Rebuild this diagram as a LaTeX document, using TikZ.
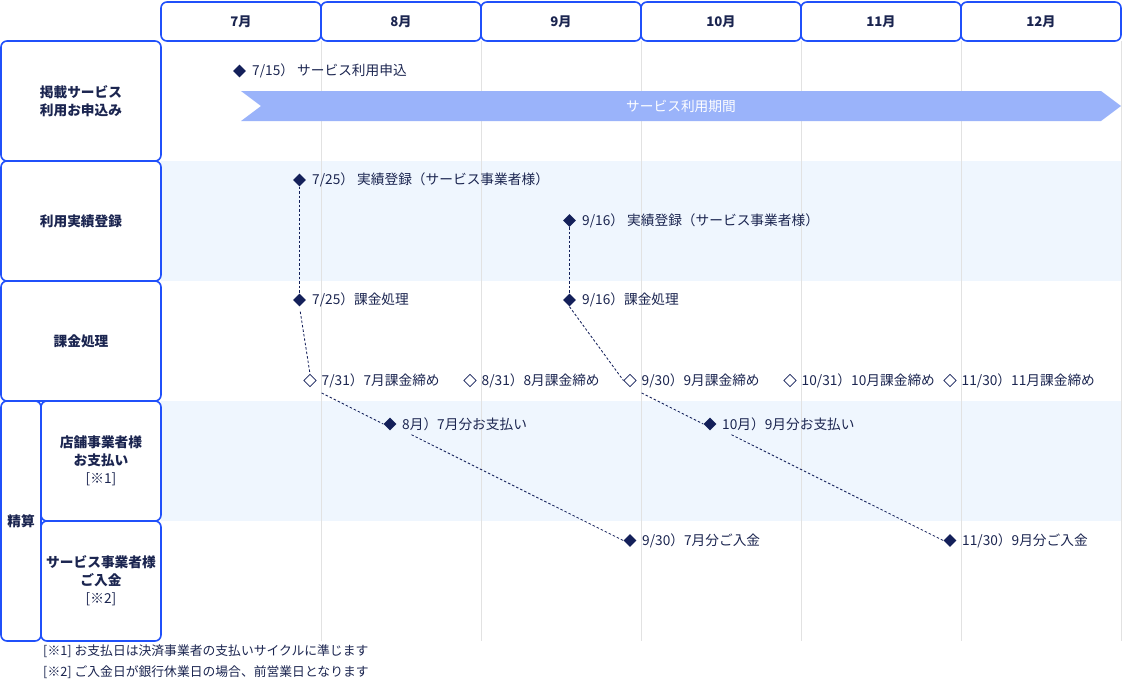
\documentclass[tikz,border=0pt]{standalone}
\usepackage{fontspec}
\setmainfont{Noto Sans CJK JP}
\usetikzlibrary{shapes.geometric}
\definecolor{boxblue}{HTML}{2050FA}
\definecolor{navy}{HTML}{1B2550}
\definecolor{mark}{HTML}{14205A}
\definecolor{arrowfill}{HTML}{9AB3FA}
\definecolor{band}{HTML}{EFF6FE}
\definecolor{gridc}{HTML}{E2E2E2}
\tikzset{
  frame/.style={draw=boxblue, line width=1.6pt, rounded corners=6pt, fill=white, text=navy, align=center, inner sep=0pt},
  hdr/.style={frame, font=\fontsize{13.2}{15}\selectfont\bfseries, minimum width=160pt, minimum height=39pt},
  rowlbl/.style={frame, font=\fontsize{13.7}{18}\selectfont\bfseries},
  fdia/.style={diamond, fill=mark, inner sep=0pt, minimum size=13pt},
  odia/.style={diamond, draw=mark, fill=white, line width=0.7pt, inner sep=0pt, minimum size=12.5pt},
  txt/.style={anchor=west, text=navy, font=\fontsize{13.7}{15}\selectfont, inner sep=0pt},
  conn/.style={draw=mark, line width=0.85pt, dash pattern=on 2.5pt off 2pt},
  note/.style={anchor=west, text=navy, font=\fontsize{12.8}{14}\selectfont, inner sep=0pt}
}
\begin{document}
\begin{tikzpicture}[x=1pt,y=-1pt]
\useasboundingbox (0,0) rectangle (1122,683);
% bands
\fill[band] (161,161) rectangle (1121,281);
\fill[band] (161,401) rectangle (1121,521);
% grid lines
\foreach \gx in {321,481,641,801,961,1121}
  \draw[gridc, line width=0.8pt] (\gx,41) -- (\gx,641);
% header
\node[hdr] (h7)  at (241,21.5) {7月};
\node[hdr] (h8)  at (401,21.5) {8月};
\node[hdr] (h9)  at (561,21.5) {9月};
\node[hdr] (h10) at (721,21.5) {10月};
\node[hdr] (h11) at (881,21.5) {11月};
\node[hdr] (h12) at (1041,21.5) {12月};
% row labels
\node[rowlbl, minimum width=160pt, minimum height=120pt] (r1) at (81,101) {掲載サービス\\利用お申込み};
\node[rowlbl, minimum width=160pt, minimum height=120pt] (r2) at (81,221) {利用実績登録};
\node[rowlbl, minimum width=160pt, minimum height=120pt] (r3) at (81,341) {課金処理};
\node[rowlbl, minimum width=40pt, minimum height=240pt] (r4) at (21,521) {精算};
\node[rowlbl, minimum width=120pt, minimum height=120pt] (r5) at (101,461) {店舗事業者様\\お支払い\\{\mdseries[※1]}};
\node[rowlbl, minimum width=120pt, minimum height=120pt] (r6) at (101,581) {サービス事業者様\\ご入金\\{\mdseries[※2]}};
% service period arrow
\fill[arrowfill] (241,91) -- (1101,91) -- (1121,106) -- (1101,121) -- (241,121) -- (261,106) -- cycle;
\node[text=white, font=\fontsize{13.7}{15}\selectfont] (period) at (681,106) {サービス利用期間};
% markers
\node[fdia] (d715) at (239.5,71) {};
\node[txt] (t715) at (252,71) {7/15）\ サービス利用申込};
\node[fdia] (d725a) at (299.5,180) {};
\node[txt] (t725a) at (312,180) {7/25）\ 実績登録（サービス事業者様）};
\node[fdia] (d916a) at (569.5,220.5) {};
\node[txt] (t916a) at (582,220.5) {9/16）\ 実績登録（サービス事業者様）};
\node[fdia] (d725b) at (299.5,300) {};
\node[txt] (t725b) at (312,300) {7/25）課金処理};
\node[fdia] (d916b) at (569.5,300) {};
\node[txt] (t916b) at (582,300) {9/16）課金処理};
\node[odia] (c731) at (310,380.5) {};
\node[txt] (tc731) at (321.5,380.5) {7/31）7月課金締め};
\node[odia] (c831) at (470,380.5) {};
\node[txt] (tc831) at (481.5,380.5) {8/31）8月課金締め};
\node[odia] (c930) at (630,380.5) {};
\node[txt] (tc930) at (641.5,380.5) {9/30）9月課金締め};
\node[odia] (c1031) at (790,380.5) {};
\node[txt] (tc1031) at (801.5,380.5) {10/31）10月課金締め};
\node[odia] (c1130) at (950,380.5) {};
\node[txt] (tc1130) at (961.5,380.5) {11/30）11月課金締め};
\node[fdia] (p8) at (390,424) {};
\node[txt] (tp8) at (402,424) {8月）7月分お支払い};
\node[fdia] (p10) at (710,424) {};
\node[txt] (tp10) at (722,424) {10月）9月分お支払い};
\node[fdia] (n930) at (630,540.5) {};
\node[txt] (tn930) at (642,540.5) {9/30）7月分ご入金};
\node[fdia] (n1130) at (950,540.5) {};
\node[txt] (tn1130) at (962,540.5) {11/30）9月分ご入金};
% connectors
\draw[conn] (d725a.south) -- (d725b.north);
\draw[conn] (d916a.south) -- (d916b.north);
\draw[conn, shorten <=5pt] (d725b.south) -- (c731.north);
\draw[conn] (d916b.south) -- (c930.west);
\draw[conn, shorten <=13pt] (c731.south) -- (p8.west);
\draw[conn, shorten <=13pt] (c930.south) -- (p10.west);
\draw[conn, shorten <=24pt] (p8.center) -- (n930.west);
\draw[conn, shorten <=24pt] (p10.center) -- (n1130.west);
% notes
\node[note] (n1) at (43,651) {[※1] お支払日は決済事業者の支払いサイクルに準じます};
\node[note] (n2) at (43,672) {[※2] ご入金日が銀行休業日の場合、前営業日となります};
\end{tikzpicture}
\end{document}
